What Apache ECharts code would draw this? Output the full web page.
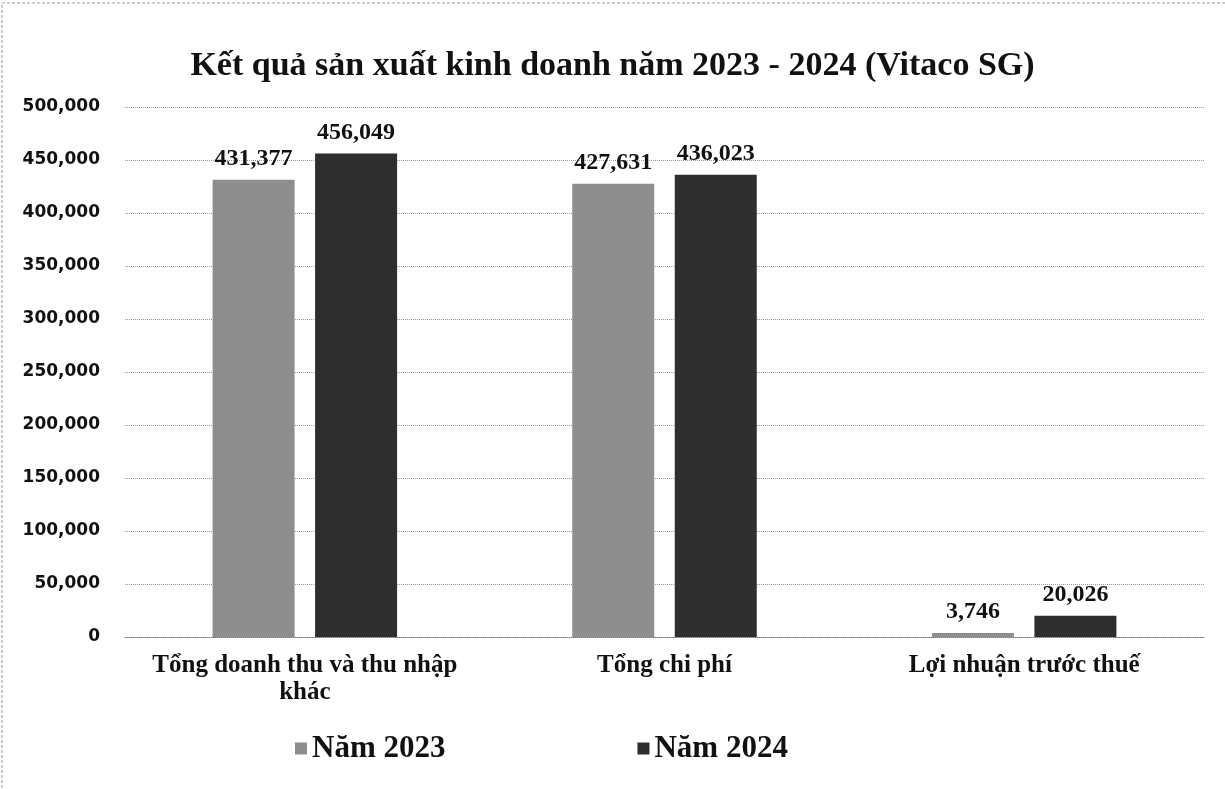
<!DOCTYPE html>
<html>
<head>
<meta charset="utf-8">
<script src="https://cdn.jsdelivr.net/npm/echarts@6/dist/echarts.min.js"></script>
<style>
 html,body{margin:0;padding:0;background:#fff;}
 #container{width:1225px;height:789px;}
</style>
</head>
<body>
<div id="container"></div>
<script>
var categories = ["Tổng doanh thu và thu nhập\nkhác", "Tổng chi phí", "Lợi nhuận trước thuế"];
var nam2023 = [431377, 427631, 3746];
var nam2024 = [456049, 436023, 20026];
var seriesNames = ["Năm 2023", "Năm 2024"];

var dom = document.getElementById("container");
var myChart = echarts.init(dom);
var serif = "'Liberation Serif', 'DejaVu Serif', serif";

function fmt(v){ return v.toLocaleString('en-US'); }

var labelStyle = {
    show: true,
    position: 'top',
    distance: 9,
    fontFamily: serif,
    fontWeight: 'bold',
    fontSize: 24,
    color: '#111',
    formatter: function(p){ return fmt(p.value); }
};

var option = {
    backgroundColor: '#fff',
    animation: false,
    title: {
        text: 'Kết quả sản xuất kinh doanh năm 2023 - 2024 (Vitaco SG)',
        left: 'center',
        top: 44,
        textStyle: {fontFamily: serif, fontWeight: 'bold', fontSize: 34, color: '#111'}
    },
    graphic: [{
        type: 'rect',
        shape: {x: 2, y: 3, width: 1240, height: 800},
        style: {fill: 'none', stroke: '#999', lineWidth: 1, lineDash: [3, 2]},
        silent: true
    }],
    legend: {
        top: 728,
        left: 290,
        itemGap: 192,
        itemWidth: 12,
        itemHeight: 12,
        icon: 'rect',
        textStyle: {fontFamily: serif, fontWeight: 'bold', fontSize: 31, color: '#111'},
        data: seriesNames
    },
    grid: {left: 125, right: 21, top: 107, bottom: 152},
    xAxis: {
        type: 'category',
        data: categories,
        axisLine: {show: true, lineStyle: {color: '#777', type: 'dotted'}},
        axisTick: {show: false},
        axisLabel: {
            interval: 0,
            hideOverlap: false,
            margin: 15,
            fontFamily: serif, fontWeight: 'bold', fontSize: 25, color: '#111',
            lineHeight: 27
        }
    },
    yAxis: {
        type: 'value',
        min: 0, max: 500000, interval: 50000,
        axisLine: {show: false},
        axisTick: {show: false},
        splitLine: {lineStyle: {color: '#999', type: 'dotted'}},
        axisLabel: {
            margin: 25,
            fontFamily: "'DejaVu Sans', Verdana, sans-serif", fontWeight: 'bold', fontSize: 17, color: '#111',
            formatter: function(v){ return fmt(v); }
        }
    },
    series: [
        {
            name: seriesNames[0], type: 'bar', data: nam2023,
            barWidth: 82, barGap: '25%',
            itemStyle: {color: '#8e8e8e'},
            label: labelStyle
        },
        {
            name: seriesNames[1], type: 'bar', data: nam2024,
            barWidth: 82,
            itemStyle: {color: '#2e2e2e'},
            label: labelStyle
        }
    ]
};
myChart.setOption(option, true);
</script>
</body>
</html>
